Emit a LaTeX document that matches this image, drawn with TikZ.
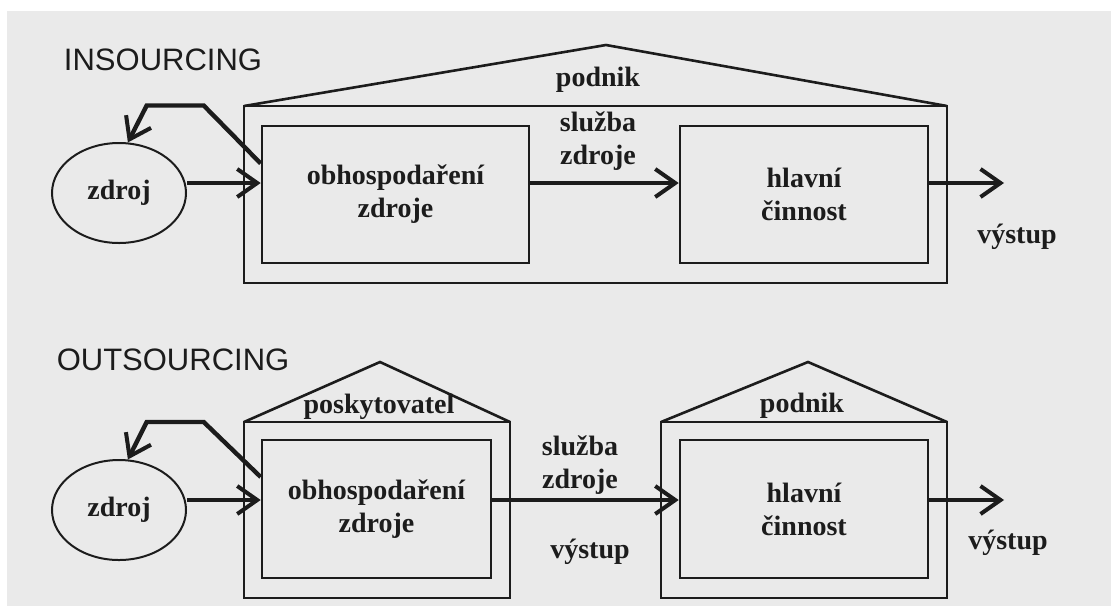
\documentclass[tikz,border=0pt]{standalone}
\usepackage{fontspec}
\setmainfont{Liberation Serif}
\newfontfamily\headfont{Liberation Sans}
\usetikzlibrary{arrows.meta,shapes.geometric}
\definecolor{pozadi}{HTML}{EAEAEA}
\definecolor{cara}{HTML}{1C1C1C}

\begin{document}
\begin{tikzpicture}[x=0.5pt,y=-0.5pt,
	txt/.style={font=\fontsize{14}{16.5}\selectfont\bfseries,text=cara,align=center,inner sep=0pt},
	box/.style={txt,draw=cara,line width=1.3pt,rectangle},
	zdrojnode/.style={txt,draw=cara,line width=1pt,ellipse,minimum width=67pt,minimum height=50pt},
	house/.style={draw=cara,line width=1.3pt,line join=miter},
	sipka/.style={draw=cara,line width=2.2pt,-{Straight Barb[length=10pt,width=14pt,line width=2pt]}},
	nadpis/.style={font=\headfont\fontsize{15.5}{18}\selectfont,text=cara,inner sep=0pt}]
	\useasboundingbox (0,0) rectangle (1111,606);
	\fill[pozadi] (7,11) rectangle (1111,606);

	\node[nadpis] (ins) at (163,60) {INSOURCING};
	\draw[house] (244,106) rectangle (947,283);
	\draw[house] (244,106) -- (606,45) -- (947,106);
	\node[txt] (podnik1) at (598,80) {podnik};
	\node[zdrojnode] (zdroj1) at (119,193) {zdroj};
	\node[box,minimum width=133.5pt,minimum height=68.5pt] (obh1) at (395.5,194.5) {obhospodaření\\zdroje};
	\node[box,minimum width=124pt,minimum height=68.5pt] (hl1) at (804,194.5) {hlavní\\činnost};
	\coordinate (ven1) at (1004,183);
	\draw[sipka] (zdroj1.east |- ven1) -- (obh1.west |- ven1);
	\draw[sipka] (obh1.east |- ven1) -- (hl1.west |- ven1);
	\draw[sipka] (hl1.east |- ven1) -- (ven1);
	\draw[sipka] ([yshift=15.5pt]obh1.west) -- ++(-57,-58) -- ++(-57,0) -- (zdroj1.80);
	\node[txt] (sluzba1) at (598,141) {služba\\zdroje};
	\node[txt] (vystup1) at (1017,237) {výstup};

	\node[nadpis] (outs) at (173,360) {OUTSOURCING};
	\draw[house] (244,422) rectangle (510,598);
	\draw[house] (244,422) -- (380,362) -- (510,422);
	\draw[house] (661,422) rectangle (947,598);
	\draw[house] (661,422) -- (808,362) -- (947,422);
	\node[txt] (posk) at (379,407) {poskytovatel};
	\node[txt] (podnik2) at (802,406) {podnik};
	\node[zdrojnode] (zdroj2) at (119,510) {zdroj};
	\node[box,minimum width=114.5pt,minimum height=69pt] (obh2) at (376.5,509) {obhospodaření\\zdroje};
	\node[box,minimum width=124pt,minimum height=69pt] (hl2) at (804,509) {hlavní\\činnost};
	\coordinate (ven2) at (1004,500);
	\draw[sipka] (zdroj2.east |- ven2) -- (obh2.west |- ven2);
	\draw[sipka] (obh2.east |- ven2) -- (hl2.west |- ven2);
	\draw[sipka] (hl2.east |- ven2) -- (ven2);
	\draw[sipka] ([yshift=16pt]obh2.west) -- ++(-57,-55) -- ++(-57,0) -- (zdroj2.80);
	\node[txt] (sluzba2) at (580,465) {služba\\zdroje};
	\node[txt] (vystup2) at (590,552) {výstup};
	\node[txt] (vystup3) at (1008,543) {výstup};
\end{tikzpicture}
\end{document}
